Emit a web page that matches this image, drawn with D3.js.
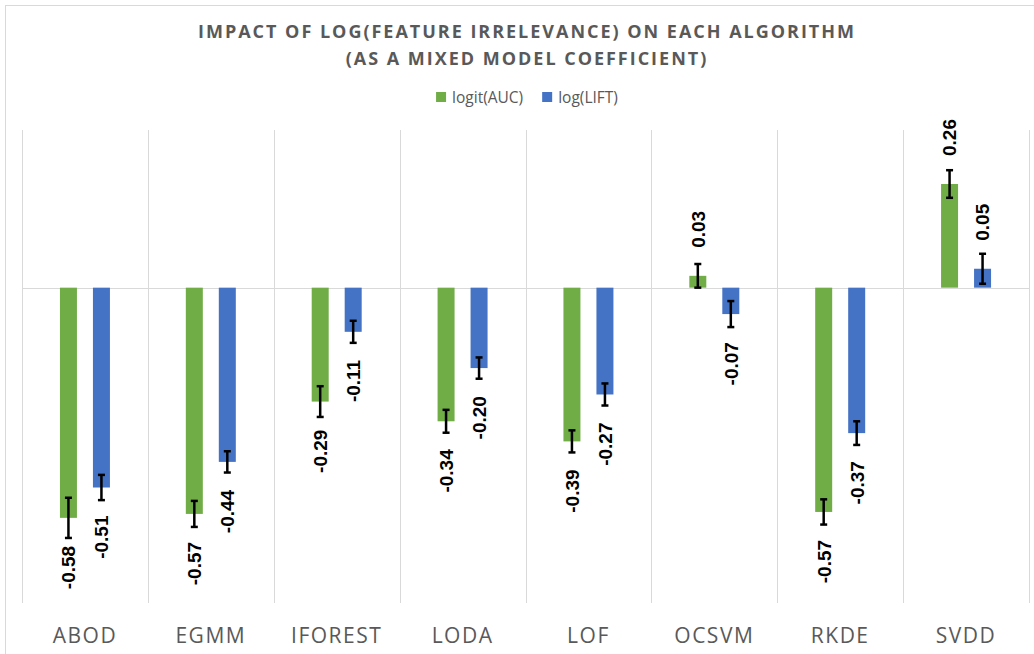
<!DOCTYPE html>
<html>
<head>
<meta charset="utf-8">
<script src="https://cdn.jsdelivr.net/npm/d3@7/dist/d3.min.js"></script>
<style>
  body { margin: 0; background: #fff; }
  svg { display: block; }
</style>
</head>
<body>
<svg id="chart" width="1034" height="654"></svg>
<script>
// chart data
var algorithms = ["ABOD", "EGMM", "IFOREST", "LODA", "LOF", "OCSVM", "RKDE", "SVDD"];
var seriesNames = ["logit(AUC)", "log(LIFT)"];
var aucValues = [-0.584, -0.574, -0.289, -0.339, -0.390, 0.030, -0.569, 0.263];
var liftValues = [-0.507, -0.442, -0.112, -0.204, -0.271, -0.067, -0.369, 0.048];
var aucErrors = [0.051, 0.033, 0.039, 0.029, 0.028, 0.030, 0.032, 0.035];
var liftErrors = [0.032, 0.027, 0.028, 0.027, 0.028, 0.033, 0.030, 0.038];
var titleLines = ["IMPACT OF LOG(FEATURE IRRELEVANCE) ON EACH ALGORITHM", "(AS A MIXED MODEL COEFFICIENT)"];

var colors = {"logit(AUC)": "#70ad47", "log(LIFT)": "#4472c4"};
var textGray = "#595959";
var gridGray = "#d9d9d9";

var svg = d3.select("#chart");

// chart frame
svg.append("rect")
  .attr("x", 5.5).attr("y", 5.5)
  .attr("width", 1040).attr("height", 660)
  .attr("fill", "none")
  .attr("stroke", gridGray);

var plot = {left: 22, right: 1029, top: 130, bottom: 603};

var xScale = d3.scaleBand()
  .domain(algorithms)
  .range([plot.left, plot.right]);

var xInner = d3.scaleBand()
  .domain(seriesNames)
  .range([0, xScale.bandwidth()])
  .paddingInner(0.485)
  .paddingOuter(1.15);

var yScale = d3.scaleLinear()
  .domain([-0.8, 0.4])
  .range([plot.bottom, plot.top]);

// vertical gridlines between categories
var bounds = algorithms.map(d => xScale(d)).concat([plot.right]);
svg.append("g").selectAll("line")
  .data(bounds)
  .enter().append("line")
  .attr("x1", d => Math.round(d) + 0.5)
  .attr("x2", d => Math.round(d) + 0.5)
  .attr("y1", plot.top)
  .attr("y2", plot.bottom)
  .attr("stroke", gridGray);

// zero line
svg.append("line")
  .attr("x1", plot.left).attr("x2", plot.right)
  .attr("y1", Math.round(yScale(0)) + 0.5)
  .attr("y2", Math.round(yScale(0)) + 0.5)
  .attr("stroke", gridGray);

// flatten data
var rows = [];
algorithms.forEach(function(a, i) {
  rows.push({alg: a, series: seriesNames[0], value: aucValues[i], err: aucErrors[i]});
  rows.push({alg: a, series: seriesNames[1], value: liftValues[i], err: liftErrors[i]});
});

var cx = d => xScale(d.alg) + xInner(d.series) + xInner.bandwidth() / 2;

// bars
svg.append("g").selectAll("rect")
  .data(rows)
  .enter().append("rect")
  .attr("x", d => xScale(d.alg) + xInner(d.series))
  .attr("width", xInner.bandwidth())
  .attr("y", d => yScale(Math.max(0, d.value)))
  .attr("height", d => Math.abs(yScale(d.value) - yScale(0)))
  .attr("fill", d => colors[d.series]);

// error bars
var errG = svg.append("g").attr("stroke", "#000").attr("stroke-width", 2.5);
rows.forEach(function(d) {
  var x = cx(d), y1 = yScale(d.value - d.err), y2 = yScale(d.value + d.err);
  errG.append("line").attr("x1", x).attr("x2", x).attr("y1", y1).attr("y2", y2);
  errG.append("line").attr("x1", x - 3.5).attr("x2", x + 3.5).attr("y1", y1).attr("y2", y1);
  errG.append("line").attr("x1", x - 3.5).attr("x2", x + 3.5).attr("y1", y2).attr("y2", y2);
});

// value labels, rotated
var fmt = d3.format(".2f");
svg.append("g").selectAll("text")
  .data(rows)
  .enter().append("text")
  .attr("transform", function(d) {
    var y = d.value < 0 ? yScale(d.value) + 28 : yScale(d.value) - 28;
    return "translate(" + cx(d) + "," + y + ") rotate(-90)";
  })
  .attr("dy", "0.36em")
  .attr("text-anchor", d => d.value < 0 ? "end" : "start")
  .style("font-family", "'Liberation Sans', Arial, sans-serif")
  .style("font-weight", "bold")
  .style("font-size", "19px")
  .attr("fill", "#000")
  .text(d => fmt(d.value).replace("−", "-"));

// category labels
svg.append("g").selectAll("text")
  .data(algorithms)
  .enter().append("text")
  .attr("x", d => xScale(d) + xScale.bandwidth() / 2)
  .attr("y", 643)
  .attr("text-anchor", "middle")
  .style("font-family", "'Open Sans', sans-serif")
  .style("font-size", "21px")
  .style("letter-spacing", "1.5px")
  .attr("fill", textGray)
  .text(d => d);

// title
var centerX = 527;
var title = svg.append("g")
  .style("font-family", "'Open Sans', sans-serif")
  .style("font-weight", "bold")
  .style("font-size", "18px")
  .attr("fill", textGray);
var t1 = title.append("text").attr("x", centerX).attr("y", 38).attr("text-anchor", "middle").text(titleLines[0]);
var natural = t1.node().getComputedTextLength();
var spacing = (656 - natural) / (titleLines[0].length - 1);
title.style("letter-spacing", spacing + "px");
title.append("text").attr("x", centerX).attr("y", 65).attr("text-anchor", "middle").text(titleLines[1]);

// legend
var legend = svg.append("g")
  .style("font-family", "'Open Sans', sans-serif")
  .style("font-size", "15.5px")
  .attr("fill", textGray);
var lx = 0;
var items = [];
seriesNames.forEach(function(s, i) {
  var g = legend.append("g").attr("transform", "translate(" + lx + ",0)");
  g.append("rect").attr("x", 0).attr("y", 92).attr("width", 10).attr("height", 10).attr("fill", colors[s]);
  var txt = g.append("text").attr("x", 16).attr("y", 103).text(s);
  lx += 16 + txt.node().getComputedTextLength() + 19;
});
var legendWidth = lx - 19;
legend.attr("transform", "translate(" + (centerX - legendWidth / 2) + ",0)");
</script>
</body>
</html>
